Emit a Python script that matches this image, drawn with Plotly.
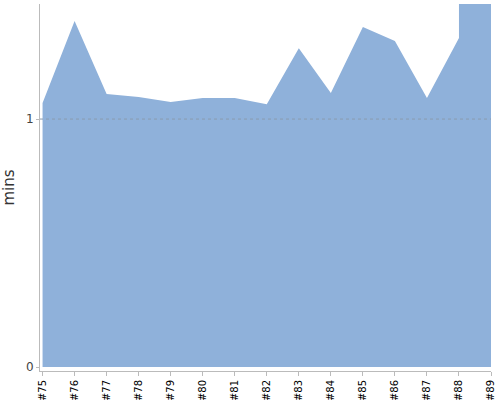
import plotly.graph_objects as go

builds = [75, 76, 77, 78, 79, 80, 81, 82, 83, 84, 85, 86, 87, 88, 88, 89]
mins = [1.065, 1.395, 1.101, 1.089, 1.069, 1.085, 1.085, 1.060, 1.286, 1.105,
        1.371, 1.315, 1.085, 1.327, 2.5, 2.5]
tick_vals = list(range(75, 90))
tick_text = ["#%d" % v for v in tick_vals]
grid_value = 1

fig = go.Figure()
fig.add_trace(go.Scatter(
    x=builds, y=mins, mode="lines", fill="tozeroy",
    line=dict(width=0, color="rgb(143,177,218)"),
    fillcolor="rgb(143,177,218)", hoverinfo="skip", showlegend=False,
))
fig.add_shape(type="line", xref="paper", x0=0, x1=1, yref="y",
              y0=grid_value, y1=grid_value, layer="above",
              line=dict(color="#8a9bb0", width=1, dash="dot"))

fig.update_layout(
    width=500, height=400,
    margin=dict(l=40, r=9, t=4, b=29),
    plot_bgcolor="white", paper_bgcolor="white",
    font=dict(family="DejaVu Sans", color="#444"),
)
fig.update_xaxes(
    range=[74.92, 89], tickvals=tick_vals, ticktext=tick_text,
    tickangle=-90, tickfont=dict(size=10, color="#000"),
    showgrid=False, zeroline=False, showline=True, linecolor="#bbb",
    ticks="outside", ticklen=4, tickcolor="#bbb", automargin=False,
)
fig.update_yaxes(
    range=[-0.016, 1.464], tickvals=[0, 1], ticktext=["0", "1"],
    tickfont=dict(size=12, color="#444"),
    title=dict(text="mins", font=dict(size=15, color="#333"), standoff=10),
    showgrid=False, zeroline=False, showline=True, linecolor="#bbb",
    ticks="outside", ticklen=3, tickcolor="#bbb", automargin=False,
)
fig.write_html("out.html", config={"displayModeBar": False},
               post_script="document.body.style.margin='0';")
